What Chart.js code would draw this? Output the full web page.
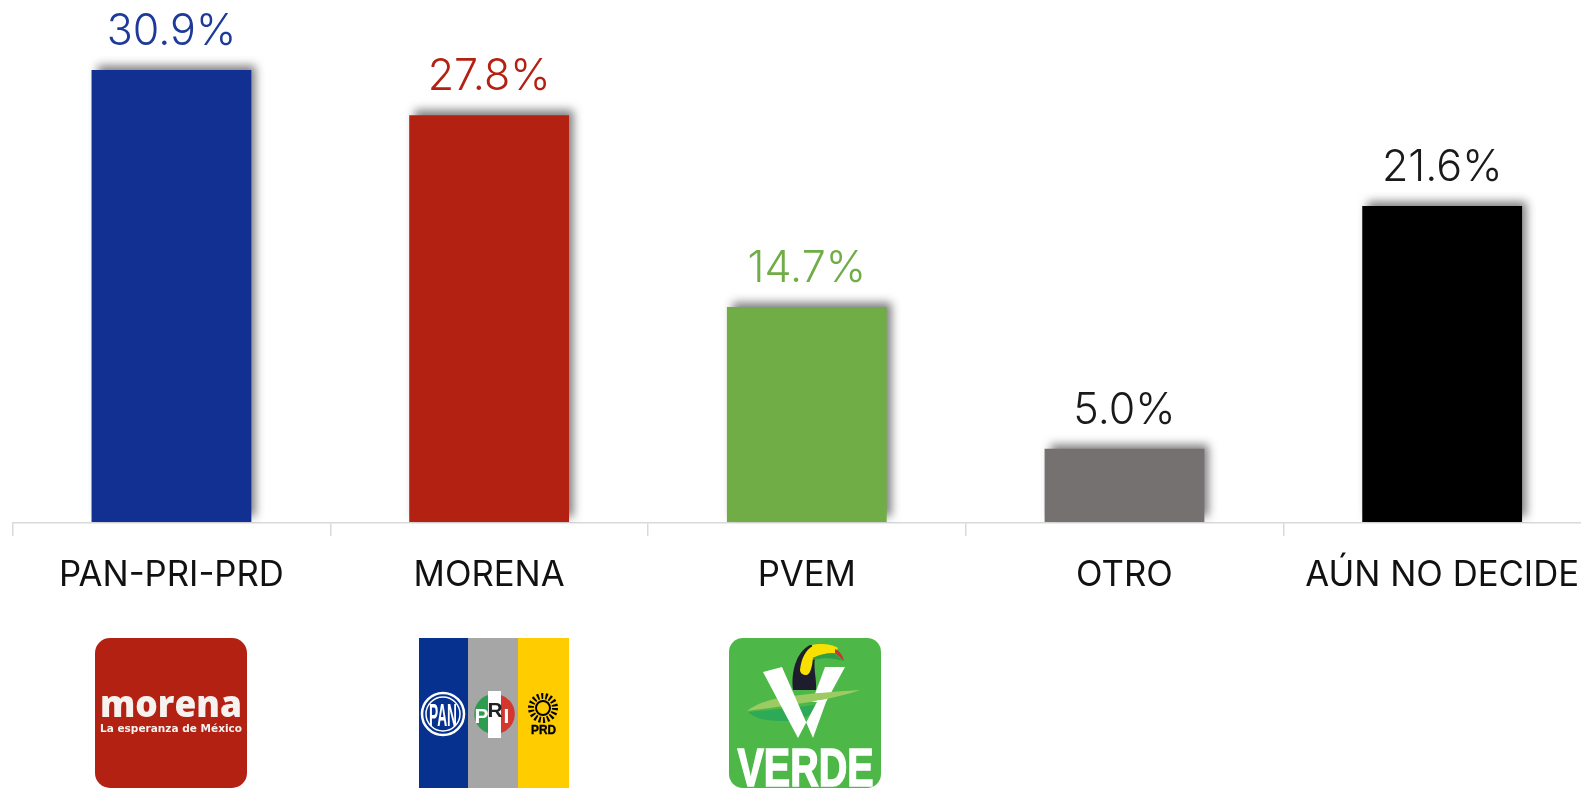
<!DOCTYPE html>
<html><head><meta charset="utf-8">
<script src="https://cdn.jsdelivr.net/npm/chart.js@4"></script>
<style>html,body{margin:0;padding:0;background:#fff;overflow:hidden}#w{position:relative;width:1581px;height:788px;overflow:hidden}canvas{display:block}svg{position:absolute;left:0;top:0}</style>
</head><body><div id="w"><canvas id="c" width="1601" height="788"></canvas>
<svg width="1581" height="788" viewBox="0 0 1581 788" font-family="'Liberation Sans',sans-serif">
<rect x="95" y="638" width="152" height="150" rx="15" fill="#B32113"/>
<text x="171" y="717" text-anchor="middle" fill="#F6F2EF" font-family="'Open Sans'" font-weight="800" font-size="37" textLength="142" lengthAdjust="spacingAndGlyphs">morena</text>
<text x="171" y="732" text-anchor="middle" fill="#F6F2EF" font-family="'DejaVu Sans'" font-weight="700" font-size="10.5" textLength="142" lengthAdjust="spacingAndGlyphs">La esperanza de México</text>

<rect x="419" y="638" width="49" height="150" fill="#06318F"/><rect x="468" y="638" width="50" height="150" fill="#A6A6A6"/><rect x="518" y="638" width="51" height="150" fill="#FFCC00"/>
<circle cx="443" cy="714" r="21" fill="none" stroke="#fff" stroke-width="2.5"/><circle cx="443" cy="714" r="17" fill="none" stroke="#fff" stroke-width="1.5"/>
<text x="443" y="726" text-anchor="middle" fill="#fff" font-weight="700" font-size="31" textLength="28" lengthAdjust="spacingAndGlyphs">PAN</text>
<path d="M488 695a20 20 0 0 0 0 38z" fill="#2E9B4F"/><path d="M501 695a20 20 0 0 1 0 38z" fill="#D3372E"/>
<rect x="488" y="691" width="13" height="47" fill="#fff"/>
<text x="481.5" y="723" text-anchor="middle" fill="#fff" font-weight="700" font-size="21">P</text><text x="495" y="717" text-anchor="middle" fill="#222" font-weight="700" font-size="21">R</text><text x="506.5" y="723" text-anchor="middle" fill="#fff" font-weight="700" font-size="21">I</text>
<circle cx="543" cy="708" r="7" fill="none" stroke="#000" stroke-width="2"/>
<circle cx="543" cy="708" r="12" fill="none" stroke="#000" stroke-width="6" stroke-dasharray="2 2.19"/>
<text x="543.5" y="734" text-anchor="middle" fill="#000" stroke="#000" stroke-width=".4" font-weight="700" font-size="13" textLength="25" lengthAdjust="spacingAndGlyphs">PRD</text>

<rect x="729" y="638" width="152" height="150" rx="14" fill="#4DB848"/>
<path d="M825 667H845L826 702H812Z" fill="#fff"/>
<path d="M793 690C791 672 796 652 810 645C815 644 817 650 815 658C813 668 817 680 816 690Z" fill="#1D1D2E"/>
<path d="M800 670C801 660 805 650 813 646L813 658C812 668 810 675 806 675C803 675 800 673 800 670Z" fill="#F8E000"/>
<path d="M812 645C820 643 832 644 838 648L835 653C828 653 819 655 813 658Z" fill="#F8E000"/>
<path d="M813 658C820 654 829 653 834 653L843 661C835 658 824 657 813 660Z" fill="#2F9E44"/>
<path d="M835 649C840 651 843 656 844 661L835 653Z" fill="#C8372D"/>
<path d="M747 711C765 698 785 695 860 690C835 699 800 704 747 711Z" fill="#9CCB63"/>
<path d="M748 712C790 708 825 704 822 703C815 715 800 722 780 721C765 721 754 718 748 712Z" fill="#2CAA57"/>
<path d="M763 672L782 667L813 738H798Z M813 738L826 702L818 700L798 738Z" fill="#fff"/>
<text x="805.5" y="786" text-anchor="middle" fill="#fff" stroke="#fff" stroke-width="1.6" font-weight="700" font-size="54" textLength="136" lengthAdjust="spacingAndGlyphs">VERDE</text>
</svg></div>
<script>
const categories=["PAN-PRI-PRD","MORENA","PVEM","OTRO","AÚN NO DECIDE"];
const values=[30.9,27.8,14.7,5.0,21.6];
const barColors=["#123091","#B32113","#70AD47","#767171","#000000"];
const labelColors=["#1D3A9A","#B32113","#70AD47","#1a1a1a","#1a1a1a"];
const fam="Inter";
const shadow={id:'shadow',beforeDatasetDraw(ch){const x=ch.ctx;x.save();x.shadowColor='rgba(0,0,0,.5)';x.shadowBlur=9;x.shadowOffsetX=5;x.shadowOffsetY=-5;},afterDatasetDraw(ch){ch.ctx.restore();}};
const valueLabels={id:'valueLabels',afterDatasetsDraw(ch){const x=ch.ctx;const m=ch.getDatasetMeta(0);x.save();x.font="350 43px "+fam;x.textAlign='center';x.textBaseline='alphabetic';m.data.forEach((b,i)=>{x.fillStyle=labelColors[i];x.fillText(values[i].toFixed(1)+'%',b.x,b.y-25);});x.restore();}};
new Chart(document.getElementById('c'),{type:'bar',data:{labels:categories,datasets:[{data:values,backgroundColor:barColors,barPercentage:.503,categoryPercentage:1}]},
options:{responsive:false,animation:false,layout:{padding:{left:12.6,right:0,top:0,bottom:0}},
plugins:{legend:{display:false},tooltip:{enabled:false}},
scales:{x:{afterFit(s){s.height=265;},grid:{display:true,drawOnChartArea:false,color:'#d9d9d9',lineWidth:1.5,tickLength:13},border:{color:'#d9d9d9',width:1.5},ticks:{color:'#111',font:{family:fam,size:34.7,weight:'400'},padding:18.5,maxRotation:0,autoSkip:false}},
y:{display:false,min:-0.07,max:35.68}}},plugins:[shadow,valueLabels]});
</script></body></html>
